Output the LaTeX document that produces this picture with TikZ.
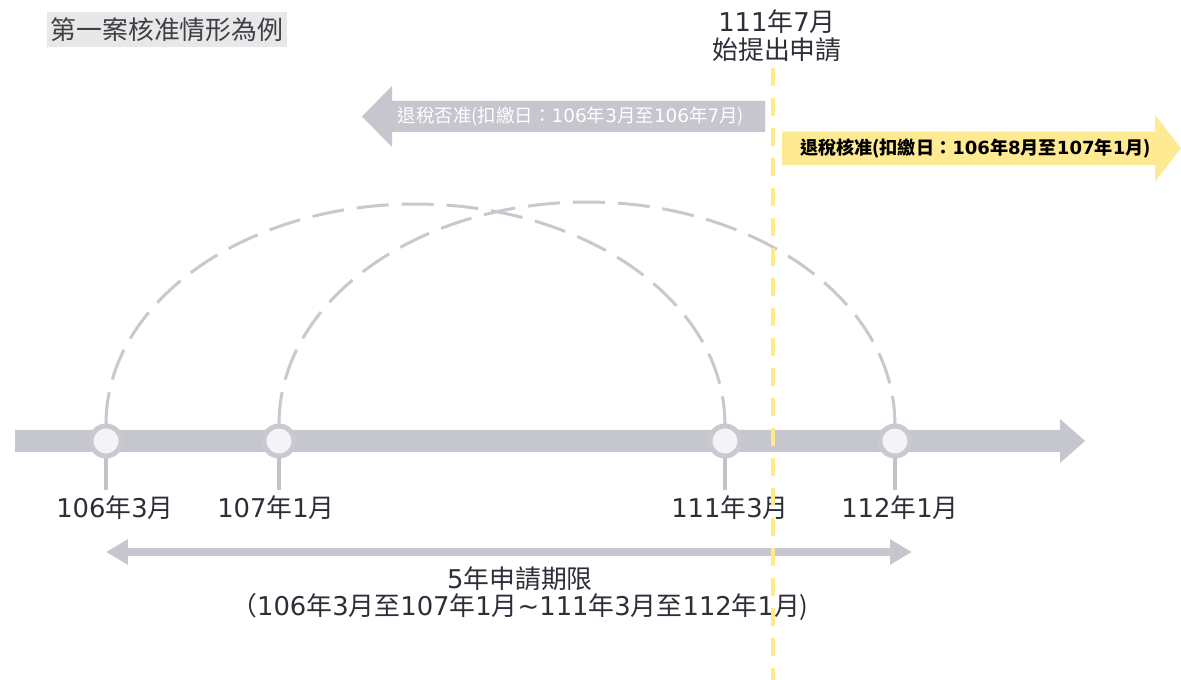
\documentclass[tikz,border=0pt]{standalone}
\usepackage{fontspec}
\setmainfont{Noto Sans CJK TC}
\newfontfamily\djfont{DejaVu Sans}
\newcommand\dig[1]{{\djfont #1}}
\usetikzlibrary{arrows.meta,backgrounds}
\definecolor{bargray}{HTML}{C5C6CE}
\definecolor{ringgray}{HTML}{C9CAD0}
\definecolor{innerfill}{HTML}{F4F4F8}
\definecolor{stemgray}{HTML}{C3C3C3}
\definecolor{arcgray}{HTML}{C8C9CF}
\definecolor{yline}{HTML}{FFE98A}
\definecolor{yarrow}{HTML}{FFEA94}
\definecolor{txt}{HTML}{2E2E38}
\definecolor{titlebg}{HTML}{E8E8E8}
\tikzset{
  big/.style={font=\fontsize{14.7}{16}\selectfont, text=txt},
  ring/.style={circle, draw=ringgray, line width=0.1cm, fill=innerfill, minimum size=0.6cm, inner sep=0pt},
  stem/.style={draw=stemgray, line width=0.08cm},
  datelabel/.style={big, inner sep=0pt},
  dasharc/.style={draw=arcgray, line width=0.06cm, dash pattern=on 0.64cm off 0.26cm},
}
\begin{document}
\begin{tikzpicture}[x=0.02cm, y=0.02cm]
\useasboundingbox (0,0) rectangle (1181,680);

% title
\node[big, fill=titlebg, minimum width=4.8cm, minimum height=0.7cm, inner sep=0pt, text=txt!92] (title) at (167,650.5) {第一案核准情形為例};

% top label
\node[big, align=center, inner sep=0pt, font=\fontsize{14.7}{15.9}\selectfont] (apply) at (777,644) {\dig{111}年\dig{7}月\\始提出申請};

% circles
\node[ring] (t1) at (106,239) {};
\node[ring] (t2) at (279,239) {};
\node[ring] (t3) at (725,239) {};
\node[ring] (t4) at (895,239) {};

% date labels
\node[datelabel] (l1) at (115,172) {\dig{106}年\dig{3}月};
\node[datelabel] (l2) at (276,172) {\dig{107}年\dig{1}月};
\node[datelabel] (l3) at (730,172) {\dig{111}年\dig{3}月};
\node[datelabel] (l4) at (900,172) {\dig{112}年\dig{1}月};

\begin{scope}[on background layer]
\fill[white] (0,0) rectangle (1181,680);
% timeline bar
\fill[bargray] (15,228) -- (1060,228) -- (1060,217) -- (1085,239) -- (1060,261) -- (1060,250) -- (15,250) -- cycle;
% arcs
\draw[dasharc] (t1.center) ++(0,17) arc[start angle=180, end angle=0, x radius=6.19cm, y radius=4.4cm];
\draw[dasharc] (t2.center) ++(0,17) arc[start angle=180, end angle=0, x radius=6.16cm, y radius=4.44cm];
% stems
\draw[stem] (t1.center) -- (t1.center |- 0,190);
\draw[stem] (t2.center) -- (t2.center |- 0,190);
\draw[stem] (t3.center) -- (t3.center |- 0,190);
\draw[stem] (t4.center) -- (t4.center |- 0,190);
\end{scope}

% gray left arrow
\fill[bargray] (765,579) -- (392,579) -- (392,594) -- (362,563.5) -- (392,533) -- (392,548) -- (765,548) -- cycle;
\node[font=\fontsize{10.5}{12}\selectfont, text=white, inner sep=0pt] (deny) at (571,563) {退稅否准(扣繳日：\dig{106}年\dig{3}月至\dig{106}年\dig{7}月)};

% yellow right arrow
\fill[yarrow] (782,548.3) -- (1155,548.3) -- (1155,565) -- (1181,531.7) -- (1155,498.3) -- (1155,515) -- (782,515) -- cycle;
\node[font=\fontsize{10.3}{12}\selectfont\bfseries, text=black, inner sep=0pt] (approve) at (975.5,531) {退稅核准(扣繳日：\dig{106}年\dig{8}月至\dig{107}年\dig{1}月)};

% double arrow
\coordinate (dl) at (106,128);
\coordinate (dr) at (912,128);
\draw[bargray, line width=0.16cm, {Triangle[length=0.44cm,width=0.48cm]}-{Triangle[length=0.44cm,width=0.48cm]}] (dl) -- (dr);

% bottom text
\node[big, align=center, inner sep=0pt, font=\fontsize{14.7}{15.5}\selectfont] (period) at (520,86.5) {\dig{5}年申請期限\\（\dig{106}年\dig{3}月至\dig{107}年\dig{1}月\dig{\char`\~}\dig{111}年\dig{3}月至\dig{112}年\dig{1}月)};

% yellow dashed line
\coordinate (lineend) at (773,0);
\draw[yline, line width=0.08cm, dash pattern=on 0.36cm off 0.24cm] (apply.south -| lineend) ++(0,-6) -- (lineend);
\end{tikzpicture}
\end{document}
